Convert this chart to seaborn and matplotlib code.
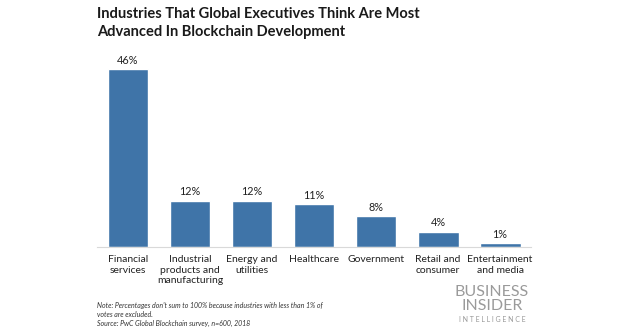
import matplotlib
matplotlib.use("Agg")
import matplotlib.pyplot as plt
import seaborn as sns
import pandas as pd

categories = [
    "Financial\nservices",
    "Industrial\nproducts and\nmanufacturing",
    "Energy and\nutilities",
    "Healthcare",
    "Government",
    "Retail and\nconsumer",
    "Entertainment\nand media",
]
values = [46, 12, 12, 11, 8, 4, 1]
value_labels = ["46%", "12%", "12%", "11%", "8%", "4%", "1%"]

title = "Industries That Global Executives Think Are Most\nAdvanced In Blockchain Development"
note = ("Note: Percentages don't sum to 100% because industries with less than 1% of\n"
        "votes are excluded.\n"
        "Source: PwC Global Blockchain survey, n=600, 2018")

sns.set_theme(style="white")
plt.rcParams["font.family"] = ["Lato", "DejaVu Sans"]

df = pd.DataFrame({"industry": categories, "share": values})

fig = plt.figure(figsize=(6.36, 3.32), dpi=100)
ax = fig.add_axes([0.1525, 0.256, 0.6825, 0.583])

sns.barplot(data=df, x="industry", y="share", color="#3f74a8", saturation=1,
            width=0.66, ax=ax)

for i, (v, lab) in enumerate(zip(values, value_labels)):
    ax.text(i, v + 0.8, lab, ha="center", va="bottom", fontsize=7.8, color="#222222")

ax.set_xlim(-0.5, 6.5)
ax.set_ylim(0, 50)
ax.set_xlabel("")
ax.set_ylabel("")
ax.set_yticks([])
ax.tick_params(axis="x", length=0, pad=6, labelsize=7.5, labelcolor="#222222")
for lbl in ax.get_xticklabels():
    lbl.set_verticalalignment("top")
for side in ["top", "right", "left"]:
    ax.spines[side].set_visible(False)
ax.spines["bottom"].set_color("#d9d9d9")
ax.spines["bottom"].set_linewidth(0.8)

fig.text(97 / 636, 1 - 7 / 332, title, ha="left", va="top", fontsize=10.5,
         fontweight="bold", color="#1a1a1a", linespacing=1.35)

fig.text(97 / 636, 1 - 302 / 332, note, ha="left", va="top", fontsize=5,
         style="italic", color="#333333", linespacing=1.3)

fig.text(492 / 636, 1 - 292 / 332, "BUSINESS", ha="center", va="center",
         fontsize=11.5, color="#9a9a9a")
fig.text(492 / 636, 1 - 306 / 332, "INSIDER", ha="center", va="center",
         fontsize=11.5, color="#9a9a9a")
fig.text(492 / 636, 1 - 319 / 332, "I N T E L L I G E N C E", ha="center", va="center",
         fontsize=5, color="#9a9a9a")

fig.savefig("out.png", dpi=100, facecolor="white")
